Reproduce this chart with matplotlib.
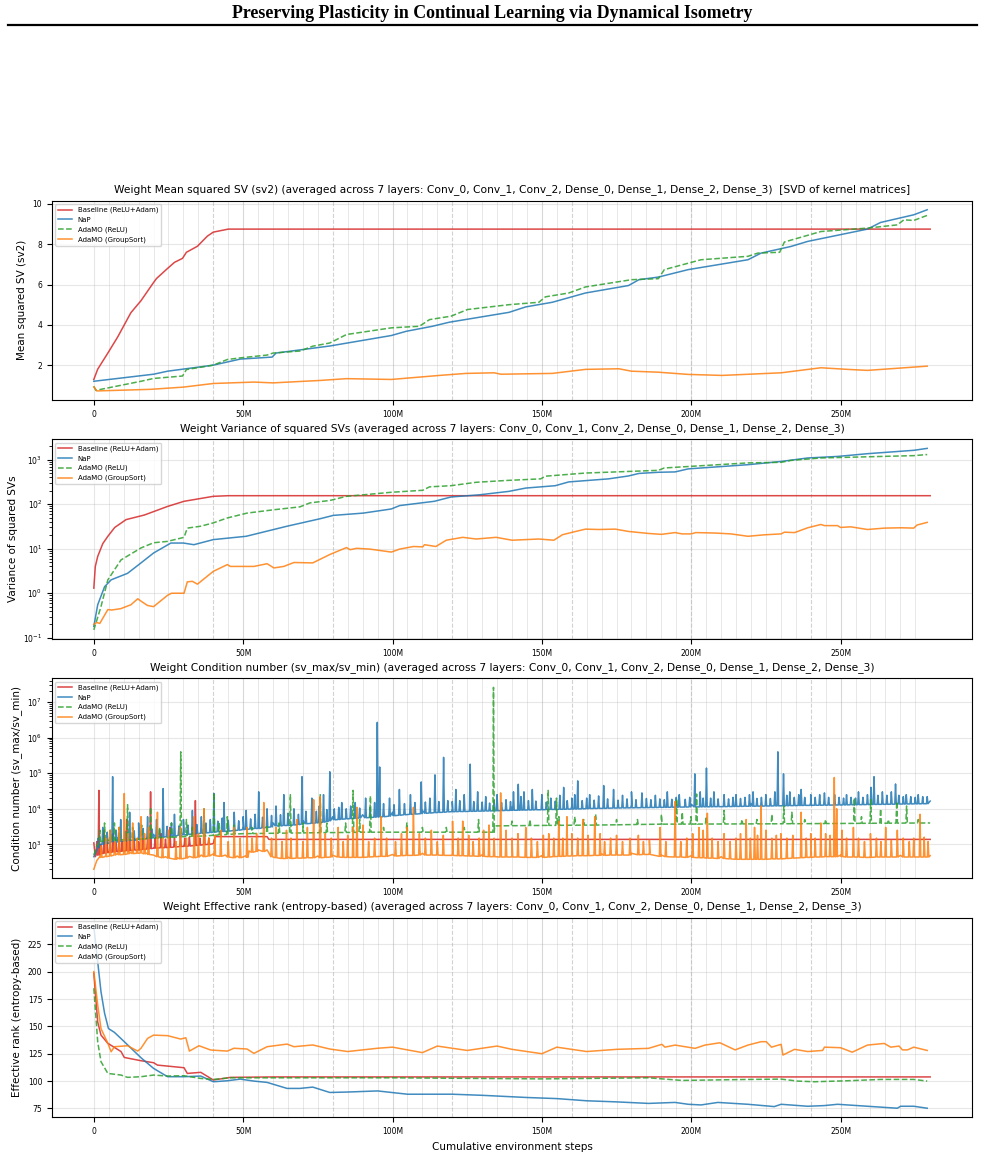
import matplotlib
matplotlib.use('Agg')
import matplotlib.pyplot as plt
import numpy as np
from matplotlib.ticker import FuncFormatter, MultipleLocator
from matplotlib.lines import Line2D

# ---- data (x in millions of environment steps) ----
labels = ['Baseline (ReLU+Adam)', 'NaP', 'AdaMO (ReLU)', 'AdaMO (GroupSort)']
colors = ['#d62728', '#1f77b4', '#2ca02c', '#ff7f0e']
styles = ['-', '-', '--', '-']

# mean squared SV
sv2_base_x = [0, 1.3, 4.7, 8, 12.4, 15.8, 20, 21, 24.7, 27, 29.7, 31, 34.7, 38, 40, 45, 60, 280]
sv2_base_y = [1.29, 1.8, 2.6, 3.4, 4.6, 5.2, 6.1, 6.3, 6.8, 7.1, 7.3, 7.6, 7.9, 8.4, 8.6, 8.75, 8.75, 8.75]
sv2_nap_x = [0, 20, 24.7, 40, 49, 59.7, 61, 79, 99.6, 104.6, 113.4, 119, 139, 144.6, 153.5, 164.6, 179,
             182.5, 189, 199, 219, 223.4, 233.4, 239, 259, 263.4, 274.5, 279]
sv2_nap_y = [1.2, 1.55, 1.7, 2.0, 2.3, 2.4, 2.6, 2.95, 3.47, 3.68, 3.93, 4.13, 4.62, 4.89, 5.12, 5.58, 5.95,
             6.24, 6.37, 6.74, 7.23, 7.56, 7.89, 8.14, 8.75, 9.08, 9.46, 9.71]
sv2_relu_x = [0, 0.7, 15.8, 20, 29.7, 31, 40, 44.7, 49, 58, 60, 69, 73.3, 79, 84.6, 99.6, 109, 112.4, 119.6,
              125.1, 139, 149, 151.2, 159, 164.6, 180, 189, 191, 203.3, 219, 222.3, 229.6, 231.2, 243.4, 259,
              269, 271.2, 274.5, 279]
sv2_relu_y = [0.95, 0.75, 1.2, 1.34, 1.46, 1.78, 2.0, 2.28, 2.36, 2.5, 2.6, 2.7, 2.94, 3.1, 3.52, 3.85, 3.93,
              4.26, 4.43, 4.76, 5.0, 5.12, 5.39, 5.58, 5.88, 6.24, 6.29, 6.74, 7.23, 7.4, 7.56, 7.6, 8.11, 8.63,
              8.8, 8.96, 9.21, 9.18, 9.43]
sv2_gs_x = [0, 1, 19, 30, 40, 53.6, 60, 75.7, 84.6, 99.6, 115.7, 124.6, 134, 136.3, 153.5, 164.6, 175.8, 180,
            189, 199, 210.3, 230.1, 243.4, 252.3, 259, 279]
sv2_gs_y = [0.92, 0.72, 0.8, 0.91, 1.09, 1.16, 1.12, 1.24, 1.33, 1.29, 1.49, 1.59, 1.62, 1.55, 1.59, 1.79, 1.82,
            1.70, 1.65, 1.54, 1.49, 1.62, 1.87, 1.79, 1.74, 1.95]

# variance of squared SVs
var_base_x = [0, 0.5, 1.3, 3, 4.7, 7, 10.8, 16.9, 24.7, 30.2, 40, 45, 280]
var_base_y = [1.3, 4.0, 6.7, 13, 19, 30, 45, 57, 89, 116, 150, 155, 155]
var_nap_x = [0, 1.3, 3.6, 5.8, 11.3, 15.8, 20, 25.8, 30, 33.5, 40, 51, 64.7, 75.7, 80.2, 90.2, 99.6, 102.4, 114,
             119.6, 129, 139, 144.6, 154.5, 159, 172.3, 179, 182.5, 189, 194.6, 199, 219, 230.1, 239, 249, 259,
             274.5, 279]
var_nap_y = [0.18, 0.55, 1.4, 2.0, 2.8, 4.8, 8, 13.4, 13.4, 12.3, 16, 19, 32, 47, 56, 63, 78, 93, 116, 145, 162,
             194, 230, 260, 316, 370, 430, 490, 520, 530, 620, 770, 910, 1090, 1180, 1360, 1620, 1790]
var_relu_x = [0, 2.4, 4.7, 9.1, 15.8, 20, 24.7, 30.2, 31.3, 35.8, 40, 44.7, 51.3, 60.3, 69, 72.4, 79, 84.6,
              99.6, 110.1, 112.4, 119.6, 128, 137.9, 149.6, 151.2, 164.6, 189, 191, 219, 230.1, 233.4, 243.4,
              274.5, 279]
var_relu_y = [0.15, 0.5, 2, 5.6, 10.4, 13.6, 14.6, 18, 29, 32, 38, 49, 63, 75, 87, 107, 121, 150, 185, 205, 245,
              260, 310, 340, 370, 425, 500, 575, 650, 845, 870, 960, 1090, 1230, 1300]
var_gs_x = [0, 1, 2, 4.7, 6, 9, 12.4, 14.7, 16, 18, 20, 24.7, 26, 30.2, 31.3, 33, 34.7, 40, 44.7, 45.7, 53.6, 58,
            60.3, 63.6, 67, 73.3, 79, 80.2, 84.6, 85.8, 88, 92.4, 99.6, 102.4, 107, 110.1, 110.7, 114.5, 118,
            123.5, 128, 134.7, 140, 149, 154, 156.9, 161.3, 164.6, 169, 174.6, 179, 185.7, 190, 194.6, 196.9,
            200, 201.5, 207.8, 213.3, 219, 224.5, 230.1, 231.2, 234.6, 239, 243.4, 244.6, 249, 250, 253.4, 259,
            264.7, 270.3, 274.5, 275.6, 279]
var_gs_y = [0.2, 0.22, 0.21, 0.43, 0.42, 0.45, 0.55, 0.75, 0.65, 0.53, 0.5, 0.9, 1.0, 1.0, 1.8, 1.85, 1.6, 3.1,
            4.4, 4.0, 4.0, 4.6, 3.7, 4.0, 4.9, 4.8, 7.4, 8.0, 10.6, 9.5, 10.2, 9.8, 8.4, 9.8, 11.2, 11.0, 12.3,
            11.2, 15.5, 18, 16.5, 18, 15.5, 16.5, 15.5, 20.6, 24.4, 27.5, 27, 27.5, 24.4, 22, 21, 23, 21.5, 21.5,
            23, 22.5, 21.5, 19, 20.5, 21.5, 23.5, 23, 29.5, 35, 33, 33, 30, 31, 27, 29, 29.5, 29, 34, 39]

# condition number: level line + spikes given as (step, low, high)
cond_base_x = [0, 0.5, 2, 5, 10, 15, 20, 25, 30, 35, 40, 40.6, 58, 58.6, 280]
cond_base_y = [1100, 450, 550, 600, 650, 700, 780, 820, 880, 950, 1050, 1650, 1650, 1380, 1380]
cond_base_spikes = [(1, 500, 1200), (1.7, 500, 33000), (2.5, 550, 1000), (3.5, 560, 2500), (4.5, 580, 1100),
                    (5.5, 600, 1300), (6.5, 610, 2000), (7.5, 620, 1100), (8.5, 630, 1400), (9.5, 640, 1200),
                    (11, 660, 5000), (12, 670, 1300), (13.5, 690, 1500), (15, 700, 1200), (16.5, 720, 1400),
                    (18, 740, 1600), (19, 760, 30000), (20.5, 780, 1500), (22.5, 800, 2000), (24, 810, 1400),
                    (25.5, 820, 3000), (27, 840, 1500), (29, 870, 1800), (30.5, 880, 1500), (32, 900, 1600),
                    (34, 930, 17000), (35.5, 950, 1500), (37, 980, 3500), (38.5, 1000, 1500)]

cond_nap_x = [0, 1, 2, 4, 8, 15, 20, 30, 40, 50, 60, 70, 80, 90, 100, 110, 120, 140, 160, 180, 200, 220, 240,
              260, 280]
cond_nap_y = [450, 700, 1000, 1300, 1500, 1700, 1900, 2300, 2800, 3300, 4000, 4600, 6000, 6800, 8000, 9000,
              10000, 11000, 12000, 13000, 13500, 14000, 15000, 15500, 16500]
cond_nap_spikes = [
    (1.5, 800, 1500), (3, 1000, 3000), (4.5, 1050, 2200), (6.3, 1200, 80000), (7.5, 1150, 2500),
    (9, 1200, 5000), (10.5, 1250, 2300), (12, 1300, 8000), (13.5, 1300, 2400), (15, 1350, 4000),
    (16.5, 1400, 2800), (18, 1450, 6000), (19.5, 1500, 2700), (21, 1550, 5000), (22, 1600, 2600),
    (23.2, 1600, 37000), (24.5, 1650, 3200), (26, 1700, 4000), (27, 1700, 7000), (28.5, 1800, 3300),
    (30, 1850, 5000), (31.5, 1900, 3500), (33, 1950, 9000), (34.5, 2000, 3600), (36, 2050, 6000),
    (37.5, 2100, 4000), (39, 2150, 5000), (40.2, 2200, 27000), (41.5, 2250, 4500), (43, 2300, 5500),
    (43.6, 2300, 15000), (45, 2350, 4800), (47, 2450, 8000), (48.5, 2500, 4600), (50, 2600, 6000),
    (51, 2650, 9000), (52.5, 2700, 5200), (54, 2800, 7000), (55.2, 2800, 30000), (56.5, 2900, 5800),
    (58, 3000, 10000), (59.5, 3100, 6500), (61, 3300, 12000), (62.5, 3300, 6800), (63.6, 3400, 25000),
    (65, 3400, 7500), (67, 3500, 10000), (68.5, 3600, 7000), (69.7, 3700, 80000), (71, 3800, 8500),
    (73, 3900, 20000), (74.5, 4000, 8500), (75.5, 4100, 12000), (76.9, 4200, 25000), (78, 4400, 9500),
    (79, 4600, 110000), (80.5, 4900, 10000), (82, 5000, 11000), (83, 5100, 15000), (84.5, 5200, 10000),
    (86, 5300, 12000), (87.5, 5400, 15000), (89, 5500, 10500), (91, 5600, 20000), (92.5, 5700, 11000),
    (94, 5800, 15000), (94.9, 5900, 2.7e6), (95.7, 5900, 150000), (97, 6000, 14000), (99, 6200, 20000),
    (100.5, 6400, 13000), (102.3, 6600, 35000), (104, 6800, 14000), (106, 7000, 25000), (107.5, 7100, 15000),
    (109.6, 7300, 57000), (111, 7500, 15500), (112.5, 7600, 20000), (114.2, 7800, 90000),
    (115.5, 7900, 16000), (117.1, 8000, 280000), (118.5, 8200, 17000), (120, 8300, 16000),
    (121.2, 8300, 35000), (122.5, 8400, 17000), (124, 8400, 25000), (126, 8500, 180000), (127.2, 8500, 16000),
    (128.5, 8600, 30000), (130, 8600, 15500), (131.2, 8700, 22000), (132.5, 8700, 14500), (134, 8800, 17000),
    (135, 8800, 25000), (136.5, 8900, 15000), (138, 9000, 18000), (139.5, 9000, 16000), (140.5, 9100, 30000),
    (142.1, 9100, 49000), (143, 9200, 22000), (144, 9200, 30000), (145.5, 9300, 17000), (146.8, 9300, 35000),
    (148, 9400, 16500), (150, 9400, 25000), (151.5, 9500, 15500), (153, 9600, 20000), (154.5, 9600, 16500),
    (156, 9700, 24000), (157.3, 9700, 40000), (158.5, 9800, 17000), (160, 9800, 20000), (161, 9900, 25000),
    (162, 9900, 61000), (163.5, 10000, 17000), (165, 10100, 20000), (166, 10200, 25000),
    (167.5, 10200, 17500), (169, 10300, 23000), (170.7, 10300, 45000), (172, 10400, 19000),
    (174, 10500, 35000), (175.5, 10500, 17500), (177, 10600, 24000), (178.5, 10600, 19000),
    (180, 10700, 30000), (181.5, 10700, 18000), (183.5, 10800, 28000), (185, 10800, 19500),
    (186.5, 10900, 18000), (188, 10900, 24000), (189.5, 11000, 19000), (191, 11000, 18000),
    (192, 11000, 30000), (193.5, 11100, 18500), (195, 11100, 21000), (196, 11200, 25000),
    (198, 11200, 18500), (199.5, 11300, 21000), (201.2, 11300, 96000), (203, 11300, 30000),
    (204, 11400, 20000), (205.1, 11400, 140000), (206.5, 11400, 20000), (207.6, 11500, 30000),
    (209, 11500, 19000), (211, 11500, 25000), (212.5, 11600, 19000), (214, 11600, 21000),
    (215, 11700, 25000), (216.5, 11700, 19500), (218, 11800, 21000), (219.5, 11800, 25000),
    (220.7, 11800, 30000), (222, 11900, 19500), (223.5, 11900, 21000), (225, 12000, 25000),
    (226.5, 12000, 19500), (228, 12100, 30000), (229, 12100, 400000), (230.9, 12200, 96000),
    (232, 12200, 24000), (233, 12300, 30000), (234.5, 12300, 21000), (236, 12400, 25000),
    (236.8, 12400, 35000), (238, 12500, 21000), (240, 12500, 25000), (241.5, 12600, 21000),
    (243, 12600, 25000), (244.6, 12700, 28000), (246, 12700, 21000), (248, 12800, 25000),
    (249.5, 12800, 21000), (251, 12900, 20000), (252, 12900, 25000), (253.5, 13000, 21000),
    (255, 13000, 20000), (256, 13100, 30000), (257.5, 13100, 21000), (259, 13200, 25000),
    (260.2, 13200, 40000), (261.2, 13300, 80000), (262.5, 13300, 24000), (264, 13400, 30000),
    (265.5, 13400, 24000), (267, 13500, 30000), (268.4, 13500, 50000), (269.5, 13600, 24000),
    (271, 13600, 22000), (272, 13700, 25000), (273.5, 13700, 22000), (275, 13800, 21000),
    (276, 13800, 25000), (277.5, 13900, 22000), (279, 13900, 22000)]

cond_relu_x = [0, 1, 2.5, 5, 10, 15, 20, 25, 30, 35, 40, 45, 50, 60, 70, 80, 90, 133.6, 134.2, 150, 170, 190,
               230, 280]
cond_relu_y = [500, 900, 1200, 1300, 1350, 1400, 1500, 1550, 1650, 1700, 1800, 1900, 2000, 2050, 2100, 2150,
               2200, 2200, 3300, 3400, 3500, 3700, 3800, 4000]
cond_relu_spikes = [
    (2, 1100, 2500), (3.6, 1250, 4000), (5.5, 1300, 2500), (6.9, 1300, 4000), (8.5, 1330, 3000),
    (11.3, 1360, 13000), (13, 1380, 3000), (16, 1420, 3500), (19, 1480, 11000), (22, 1520, 3000),
    (26, 1570, 4000), (29.1, 1640, 400000), (31, 1660, 5000), (33, 1680, 3000), (36.9, 1720, 10000),
    (40.2, 1800, 28000), (42, 1840, 4000), (44.7, 1890, 6000), (47, 1950, 3500), (53, 2010, 3000),
    (58, 2040, 3500), (62, 2060, 4000), (65.8, 2080, 25000), (70, 2100, 4000), (75.8, 2130, 25000),
    (78, 2140, 4000), (84.3, 2160, 4000), (86.8, 2170, 33000), (89, 2190, 5000), (92.6, 2200, 23000),
    (97, 2200, 3000), (104.8, 2200, 4000), (110, 2200, 3000), (118, 2200, 3000), (124, 2200, 3000),
    (128.8, 2200, 5000), (133.8, 2200, 2.6e7), (140, 3350, 4500), (146, 3380, 5000), (152.1, 3420, 33000),
    (154.9, 3430, 20000), (155.7, 3430, 6000), (161, 3460, 6000), (164, 3470, 5000), (168, 3490, 7000),
    (175, 3550, 5000), (182, 3620, 5000), (190, 3700, 7000), (195.1, 3710, 19000), (197, 3710, 8000),
    (199.9, 3720, 6000), (201.8, 3720, 26000), (205, 3730, 6000), (211, 3740, 9000), (217, 3760, 5000),
    (222, 3770, 5000), (227, 3780, 7000), (231, 3800, 12000), (233.7, 3810, 8000), (238, 3820, 5000),
    (245, 3850, 5000), (254.6, 3890, 20000), (257, 3900, 6000), (260.1, 3920, 18000), (263.4, 3930, 10000),
    (266, 3940, 5000), (268.8, 3950, 16000), (272.1, 3970, 12000), (276, 3980, 5000)]

cond_gs_x = [0, 1, 2, 4, 8, 12, 16, 18, 20, 24, 28, 32, 36, 40, 44, 48, 51, 52, 55, 58, 59, 65, 75, 80, 90, 100,
             110, 120, 130, 140, 150, 160, 170, 180, 186, 190, 200, 210, 220, 230, 240, 250, 260, 270, 280]
cond_gs_y = [200, 350, 450, 500, 560, 600, 630, 580, 500, 450, 420, 460, 500, 540, 500, 470, 480, 650, 700, 700,
             500, 440, 470, 490, 480, 520, 560, 540, 510, 490, 480, 520, 540, 560, 580, 500, 480, 450, 420, 430,
             480, 500, 480, 490, 480]
cond_gs_spikes = [
    (2.5, 430, 900), (4, 450, 1500), (5.5, 470, 2500), (7, 500, 1200), (8.5, 510, 3000), (10.2, 520, 27000),
    (11.5, 540, 2000), (13, 550, 4000), (14.5, 560, 1500), (15.8, 570, 6000), (17, 540, 2000),
    (18.3, 520, 3000), (21.3, 450, 8000), (23, 420, 1500), (25, 410, 2500), (27.5, 380, 1200),
    (29, 390, 3000), (31, 410, 1500), (33.6, 420, 6000), (35, 440, 2000), (36.9, 450, 10000),
    (38.5, 470, 1500), (40.5, 480, 1800), (42.5, 460, 2500), (45, 440, 1200), (47, 420, 3000),
    (49, 420, 1500), (51.3, 430, 3000), (53, 600, 1500), (54.5, 630, 2000), (56.9, 630, 15000),
    (59.5, 450, 1500), (61, 420, 3000), (63, 400, 1200), (64.5, 400, 2500), (66, 400, 1500), (68, 410, 5000),
    (70, 410, 1200), (71.5, 420, 3000), (73.6, 420, 18000), (75.8, 420, 22000), (77.5, 430, 2000),
    (79.5, 440, 1500), (81.8, 440, 3000), (83.5, 430, 1200), (85, 430, 1800), (86.8, 430, 3000),
    (88.1, 430, 11000), (90.1, 430, 3500), (92, 440, 1200), (94, 450, 1500), (96.2, 460, 6000),
    (98, 460, 1500), (101, 470, 1200), (103, 480, 2000), (104.8, 490, 3000), (107, 490, 11000),
    (109, 500, 2000), (111, 500, 1500), (113, 500, 2500), (115, 500, 1200), (117, 490, 1800),
    (120.1, 490, 4500), (122, 480, 1500), (123.5, 480, 4500), (125.5, 470, 1800), (127, 470, 1200),
    (129, 460, 1500), (130.5, 460, 2500), (132.3, 450, 3500), (134, 450, 1500), (136.2, 440, 28000),
    (138, 440, 2500), (140, 440, 1500), (142, 440, 2000), (144.6, 430, 3000), (146.5, 430, 1500),
    (148.5, 430, 1200), (150.5, 430, 1800), (152.3, 440, 2000), (154, 450, 1500), (155.7, 460, 4500),
    (157, 460, 1500), (158.4, 470, 6000), (160, 470, 2000), (162, 480, 1500), (163.7, 480, 5000),
    (165.5, 480, 1800), (167.7, 490, 6000), (169.5, 490, 2000), (171, 490, 1200), (173, 500, 1500),
    (175, 500, 1800), (177, 500, 1200), (179.5, 500, 1500), (182.3, 510, 1800), (184, 520, 1200),
    (186, 520, 1300), (189.6, 460, 3000), (191.5, 450, 1200), (194.6, 440, 16000), (196.5, 440, 1200),
    (198.5, 430, 1500), (200.5, 430, 2000), (202.6, 420, 3000), (204, 420, 2500), (205.4, 410, 7500),
    (207, 410, 1500), (209, 400, 1200), (211, 400, 2000), (213, 390, 1200), (215, 380, 1500),
    (216.5, 380, 2000), (218.4, 380, 5000), (219.8, 380, 1500), (221.2, 380, 3000), (222.2, 380, 1800),
    (223.4, 380, 12000), (225, 380, 2500), (227, 390, 1500), (228.5, 390, 1800), (230, 390, 2000),
    (232, 400, 1500), (234, 410, 1800), (236.8, 420, 8000), (238.5, 430, 1500), (240, 430, 2000),
    (241.5, 440, 1500), (243.4, 440, 4000), (245, 450, 2000), (246.5, 450, 1800), (247.9, 450, 76000),
    (248.7, 450, 10000), (250.5, 450, 2500), (252, 440, 1500), (254.3, 440, 3000), (256, 440, 1500),
    (258, 430, 1200), (260, 430, 2000), (262, 440, 1500), (263.5, 440, 1200), (265.1, 440, 3000),
    (267, 440, 1300), (269, 440, 2500), (271, 440, 1500), (273, 440, 1200), (274.5, 440, 1500),
    (276.6, 440, 7000), (278, 440, 1600), (279.3, 440, 1200)]

# effective rank
er_base_x = [0, 1.3, 2.4, 4.7, 9.1, 10.2, 15.8, 20, 21.3, 24.7, 30.2, 31.3, 35.8, 40, 45.8, 60, 280]
er_base_y = [198.5, 154, 142, 134.5, 127, 121.6, 118.6, 116.8, 114.6, 113.7, 112.2, 107, 108, 101, 103.4,
             103.8, 103.8]
er_nap_x = [0, 1.3, 2.4, 3.6, 4.9, 6.9, 10.2, 15.8, 20, 24.7, 30.2, 35.8, 40, 44.7, 49, 53.6, 58, 64.7, 69,
            73.3, 79, 85, 95, 105, 120, 130, 145, 155, 165, 175, 185.7, 194.6, 199, 203.3, 208.9, 219, 227.8,
            230.1, 239, 244.5, 249, 259, 269, 270.1, 274.5, 279]
er_nap_y = [241, 209, 181.7, 162, 148, 144.5, 136, 121.3, 111.6, 104, 104, 104.6, 99.4, 100.3, 101.8, 100, 98.8,
            93.3, 93.3, 94.5, 89.6, 90, 91, 88, 88, 87, 85, 84, 82, 81, 79.6, 80.5, 78.8, 78.2, 80.5, 78.8, 76.7,
            78.8, 77, 77.6, 78.8, 77, 75.2, 77, 77, 75.2]
er_relu_x = [0, 1.3, 2.4, 4.7, 9.1, 11.3, 15.8, 20, 24.7, 30.2, 35.8, 40, 45.8, 100, 150, 185.7, 196.9, 219,
             230.1, 235.6, 241.2, 252.3, 263.4, 274.5, 279]
er_relu_y = [184.8, 136, 117.7, 107, 105.5, 103.4, 104, 105.5, 104.6, 104.9, 102.4, 101.5, 103, 103, 102, 103,
             100.6, 101.5, 101.8, 100, 99.4, 100.3, 101.5, 101.5, 100]
er_gs_x = [0, 1.3, 2.4, 4.7, 5.8, 6.9, 11.3, 14.7, 15.8, 18, 20, 24.7, 29.1, 30.8, 32, 35.2, 39.1, 44.7, 46.9,
           51.3, 53.6, 58, 64.7, 67, 73.3, 79, 85, 95, 100, 110, 115, 125, 135, 140, 150, 155, 165, 175, 185.7,
           190.2, 191.2, 194.6, 201.3, 204.6, 209.6, 214.7, 219, 223.4, 225.1, 226.9, 230.1, 230.7, 234.6, 239,
           244, 244.6, 250, 253.9, 259, 264.6, 266.8, 269.6, 270.7, 272.4, 274.5, 279]
er_gs_y = [200, 169.5, 148, 134.5, 126.8, 131.4, 132.3, 127.4, 130, 139, 142, 141.5, 138.4, 139.6, 127.4, 132.3,
           128.4, 127.4, 130, 129.3, 125.3, 131.4, 133.8, 131.4, 133, 129.3, 127, 130, 131, 126, 132, 128, 132,
           129, 125, 131, 127, 129, 129.9, 133.6, 131, 132.9, 129.9, 132.9, 135, 128.5, 132.9, 136, 136, 131,
           133.6, 123.8, 129, 127, 128, 131, 130.5, 126.4, 132.9, 134.4, 131, 132, 128.5, 128.5, 131, 128]


def with_spikes(lx, ly, spikes, half=0.25):
    # splice each (step, low, high) spike into the level line as a narrow peak
    xs, ys = list(lx), list(ly)
    for sx, lo, hi in spikes:
        xs += [sx - half, sx, sx + half]
        ys += [lo, hi, lo]
    xs, ys = np.array(xs), np.array(ys)
    o = np.argsort(xs, kind='stable')
    return xs[o], ys[o]


panels = [
    dict(title='Weight Mean squared SV (sv2) (averaged across 7 layers: Conv_0, Conv_1, Conv_2, Dense_0, '
               'Dense_1, Dense_2, Dense_3)  [SVD of kernel matrices]',
         ylabel='Mean squared SV (sv2)', log=False,
         series=[(sv2_base_x, sv2_base_y), (sv2_nap_x, sv2_nap_y), (sv2_relu_x, sv2_relu_y), (sv2_gs_x, sv2_gs_y)]),
    dict(title='Weight Variance of squared SVs (averaged across 7 layers: Conv_0, Conv_1, Conv_2, Dense_0, '
               'Dense_1, Dense_2, Dense_3)',
         ylabel='Variance of squared SVs', log=True,
         series=[(var_base_x, var_base_y), (var_nap_x, var_nap_y), (var_relu_x, var_relu_y), (var_gs_x, var_gs_y)]),
    dict(title='Weight Condition number (sv_max/sv_min) (averaged across 7 layers: Conv_0, Conv_1, Conv_2, '
               'Dense_0, Dense_1, Dense_2, Dense_3)',
         ylabel='Condition number (sv_max/sv_min)', log=True,
         series=[with_spikes(cond_base_x, cond_base_y, cond_base_spikes),
                 with_spikes(cond_nap_x, cond_nap_y, cond_nap_spikes),
                 with_spikes(cond_relu_x, cond_relu_y, cond_relu_spikes),
                 with_spikes(cond_gs_x, cond_gs_y, cond_gs_spikes)]),
    dict(title='Weight Effective rank (entropy-based) (averaged across 7 layers: Conv_0, Conv_1, Conv_2, '
               'Dense_0, Dense_1, Dense_2, Dense_3)',
         ylabel='Effective rank (entropy-based)', log=False,
         series=[(er_base_x, er_base_y), (er_nap_x, er_nap_y), (er_relu_x, er_relu_y), (er_gs_x, er_gs_y)]),
]

W, H = 985, 1168
fig = plt.figure(figsize=(W / 100, H / 100), dpi=100)
fig.text(0.5, 1 - 13 / H, 'Preserving Plasticity in Continual Learning via Dynamical Isometry',
         ha='center', va='center', family='Liberation Serif', weight='bold', fontsize=12.9)
fig.add_artist(Line2D([8 / W, 977 / W], [1 - 25 / H, 1 - 25 / H], color='black', lw=1.6))

bounds = [(200.7, 400), (439.3, 639), (678.3, 878.3), (917.7, 1117.3)]
left, right = 52, 972
fmt = FuncFormatter(lambda v, p: '0' if v == 0 else f'{int(round(v))}M')

for i, (p, (top, bot)) in enumerate(zip(panels, bounds)):
    ax = fig.add_axes([left / W, 1 - bot / H, (right - left) / W, (bot - top) / H])
    for k in range(5, 280, 5):
        if k % 40 == 0:
            ax.axvline(k, color='gray', ls='--', lw=0.8, alpha=0.35, zorder=0)
        else:
            ax.axvline(k, color='#bbbbbb', lw=0.6, alpha=0.4, zorder=0)
    for (x, y), lab, c, ls in zip(p['series'], labels, colors, styles):
        ax.plot(x, y, color=c, ls=ls, lw=1.1, alpha=0.85, label=lab)
    if p['log']:
        ax.set_yscale('log')
    ax.grid(True, alpha=0.3)
    ax.xaxis.set_major_locator(MultipleLocator(50))
    ax.xaxis.set_major_formatter(fmt)
    if i == 3:
        ax.yaxis.set_major_locator(MultipleLocator(25))
        ax.set_xlabel('Cumulative environment steps', fontsize=7.5)
    ax.set_title(p['title'], fontsize=7.65)
    ax.set_ylabel(p['ylabel'], fontsize=7.5)
    ax.tick_params(labelsize=5.5)
    ax.legend(loc='upper left', fontsize=5)

fig.savefig('out.png', dpi=100)
